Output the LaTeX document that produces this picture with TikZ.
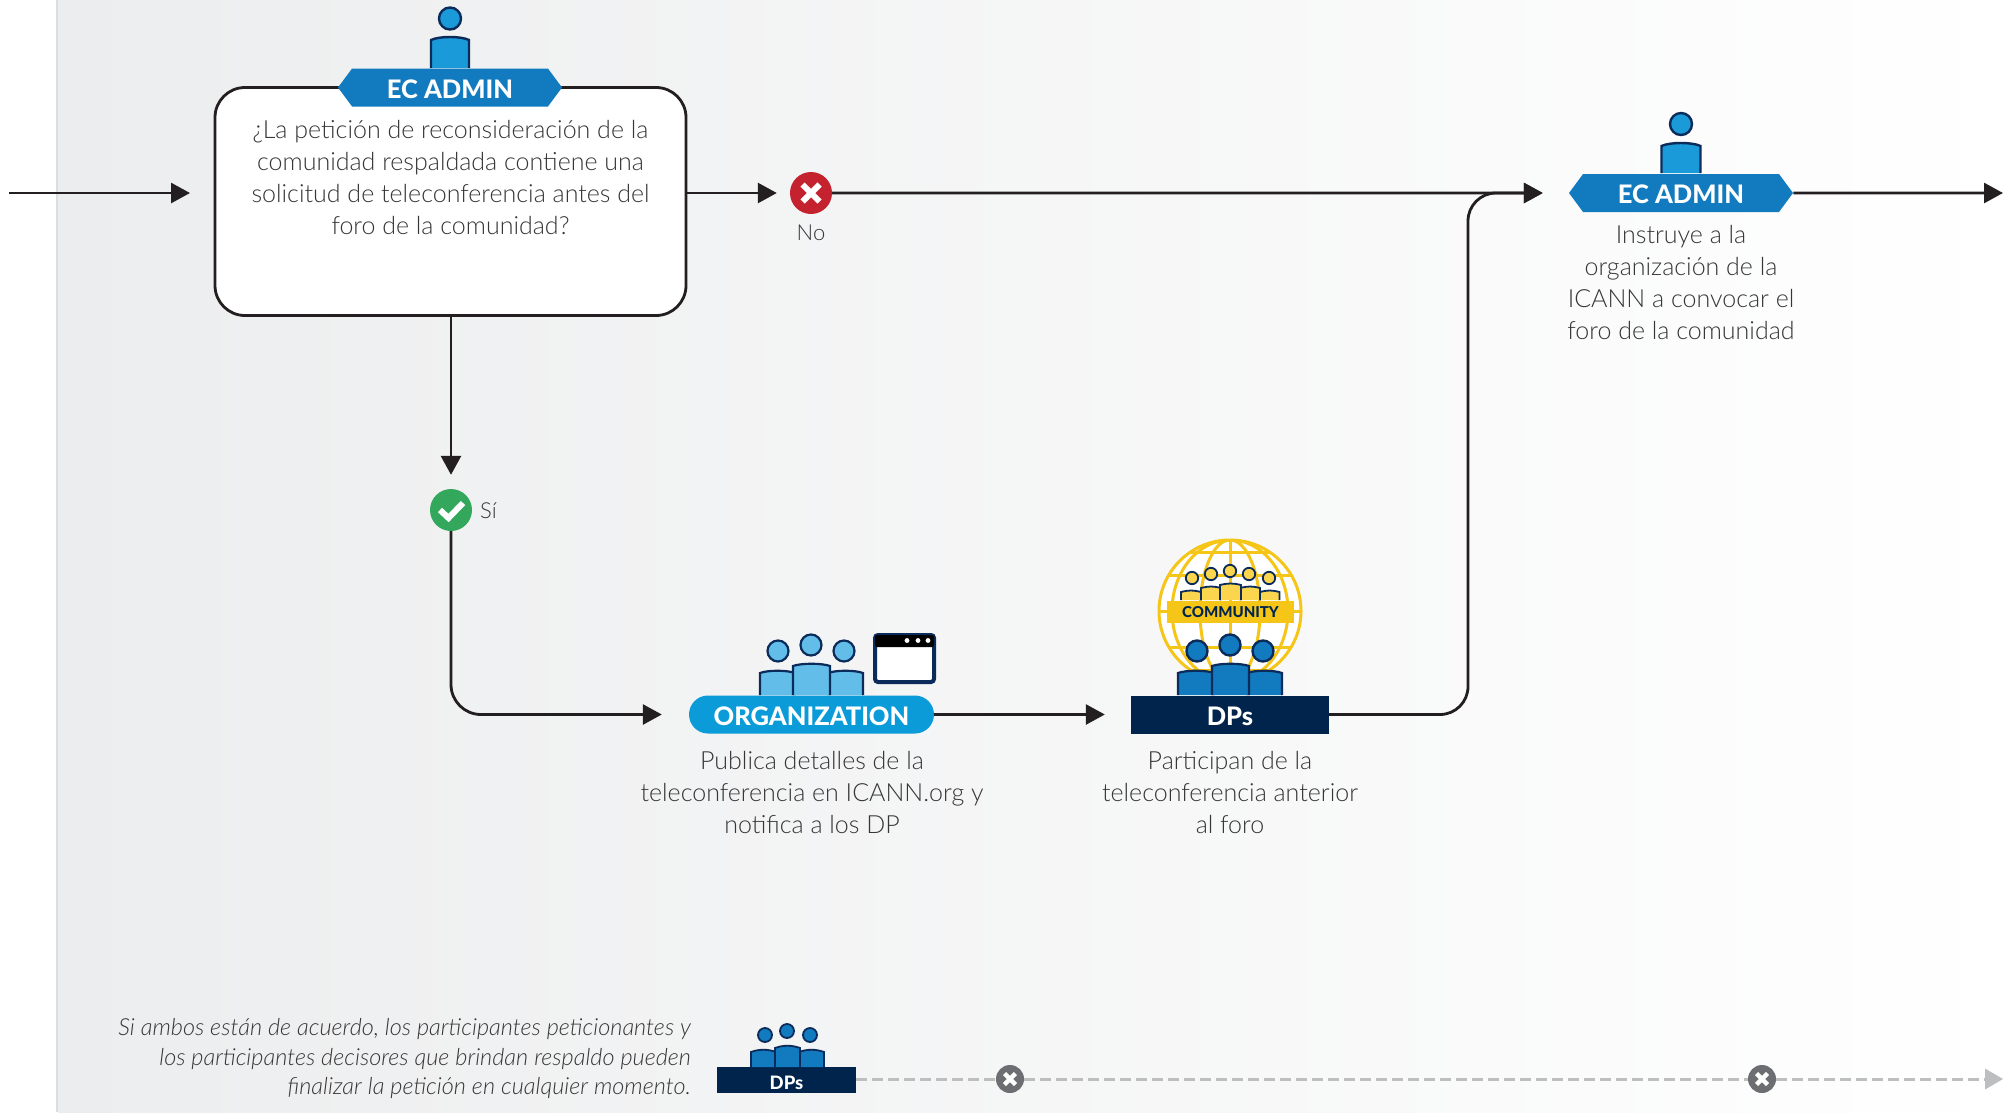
\documentclass[tikz,border=0pt]{standalone}
\usepackage{fontspec}
\setmainfont{Lato}[UprightFont=* Light,ItalicFont=* Light Italic,BoldFont=* Heavy]
\usetikzlibrary{arrows.meta,shapes.symbols,calc,backgrounds}
\definecolor{ink}{HTML}{231F20}
\definecolor{txt}{HTML}{363638}
\definecolor{navy}{HTML}{00244C}
\definecolor{stroke}{HTML}{0B2C5A}
\definecolor{tagblue}{HTML}{127ABF}
\definecolor{cyan1}{HTML}{1A9AD9}
\definecolor{pillblue}{HTML}{0A9BD8}
\definecolor{lightblue}{HTML}{62BEE9}
\definecolor{gold}{HTML}{F5C518}
\definecolor{goldl}{HTML}{FAD54D}
\definecolor{dgray}{HTML}{6D6E71}
\definecolor{lgray}{HTML}{BCBEC0}
\definecolor{noRed}{HTML}{C4222E}
\definecolor{yesGreen}{HTML}{33A85C}
\definecolor{bgL}{HTML}{ECEDEE}
\definecolor{bgE}{HTML}{DDDEDF}
\tikzset{
  x=1pt,y=-1pt,
  flow/.style={draw=ink,line width=2.8pt,-{Triangle[length=19pt,width=20pt]}},
  dashflow/.style={draw=lgray,line width=3pt,dash pattern=on 11pt off 5pt},
  body/.style={font=\fontsize{25}{32}\selectfont,text=txt,align=center,inner sep=0pt},
  tagtext/.style={font=\fontsize{25.5}{30}\selectfont\bfseries,text=white,text height=21.4pt,text depth=0pt},
  hextag/.style={shape=signal,signal to=east and west,signal pointer angle=107,fill=tagblue,minimum width=224pt,minimum height=38pt,inner sep=0pt,tagtext},
  decbox/.style={draw=ink,line width=2.8pt,fill=white,rounded corners=30pt,minimum width=471pt,minimum height=228pt,inner sep=0pt},
  pill/.style={fill=pillblue,rounded corners=19pt,minimum width=245pt,minimum height=38pt,inner sep=0pt,tagtext},
  dpsbar/.style={fill=navy,minimum width=198pt,minimum height=38pt,inner sep=0pt,tagtext},
  dpssmall/.style={dpsbar,minimum width=139pt,minimum height=26pt,font=\fontsize{18.5}{20}\selectfont\bfseries,text height=18.4pt},
  decision/.style={circle,minimum size=42pt,inner sep=0pt},
  stopdot/.style={circle,fill=dgray,minimum size=28pt,inner sep=0pt},
  small/.style={font=\fontsize{22}{26}\selectfont,text=txt,inner sep=0pt},
}
\newcommand{\person}[7]{% x left, x right, top, bottom, fill, stroke width, bulge
  \fill[#5,draw=stroke,line width=#6pt] (#1,#4) -- (#1,#3+2) .. controls (#1+8,#3-#7) and (#2-8,#3-#7) .. (#2,#3+2) -- (#2,#4);
}
\newcommand{\headat}[5]{% x y r fill lw
  \fill[#4,draw=stroke,line width=#5pt] (#1,#2) circle (#3);
}
\newcommand{\xmark}[3]{% center, size, width
  \draw[white,line width=#3pt] ($(#1)+(-#2,-#2)$) -- ($(#1)+(#2,#2)$) ($(#1)+(-#2,#2)$) -- ($(#1)+(#2,-#2)$);
}
\begin{document}
\begin{tikzpicture}
\useasboundingbox (0,0) rectangle (2014,1112);
\coordinate (startL) at (9,193);
\coordinate (inTip) at (190,193);
\coordinate (busx) at (1468,193);
\coordinate (endR) at (2003,193);
\coordinate (dashEnd) at (2003,1079);

% nodes
\node[decbox] (q) at (450.5,201.5) {};
\node[body,anchor=north] (qtext) at (450.5,120.5) {¿La petición de reconsideración de la\\comunidad respaldada contiene una\\solicitud de teleconferencia antes del\\foro de la comunidad?};
\node[small] (nol) at (811,233) {No};
\node[small,anchor=west] (yesl) at (480,511) {Sí};
\node[body,anchor=north] (ec2t) at (1681,225) {Instruye a la\\organización de la\\ICANN a convocar el\\foro de la comunidad};
\node[body,anchor=north] (orgt) at (812,751) {Publica detalles de la\\teleconferencia en ICANN.org y\\notifica a los DP};
\node[body,anchor=north] (dpst) at (1230,751) {Participan de la\\teleconferencia anterior\\al foro};
\node[font=\fontsize{23.5}{29.5}\selectfont\itshape,text=txt,align=right,inner sep=0pt,anchor=east] (note) at (691,1059) {Si ambos están de acuerdo, los participantes peticionantes y\\los participantes decisores que brindan respaldo pueden\\finalizar la petición en cualquier momento.};
\node[hextag] (ec1) at (450,87.5) {EC ADMIN};
\node[decision,fill=noRed] (no) at (811,193) {};
\xmark{no}{8.5}{6}
\node[decision,fill=yesGreen] (yes) at (451,510) {};
\draw[white,line width=6pt] ($(yes)+(-11,0)$) -- ($(yes)+(-2.5,8)$) -- ($(yes)+(12,-7)$);
\node[hextag] (ec2) at (1681,193) {EC ADMIN};
\node[pill] (org) at (811.5,714.5) {ORGANIZATION};
\node[dpsbar] (dps) at (1230,714.5) {DPs};
\node[dpssmall] (dps2) at (786.5,1080) {DPs};
\node[stopdot] (c1) at (1010,1079) {};
\node[stopdot] (c2) at (1762,1079) {};
\xmark{c1}{5.5}{4.4}
\xmark{c2}{5.5}{4.4}

% backdrop and connectors, below the nodes
\begin{scope}[on background layer]
\fill[white] (0,0) rectangle (2014,1112);
\fill[left color=bgL,right color=white] (58,0) rectangle (2014,1112);
\fill[bgE] (56,0) rectangle (58,1112);
\draw[flow] (startL) -- (inTip);
\draw[flow,shorten >=13pt] (q.east |- no) -- (no);
\draw[flow,shorten >=26pt] (no) -- (ec2);
\draw[flow] (ec2) -- (endR);
\draw[flow,shorten >=14pt] (yes |- q.south) -- (yes);
\draw[flow,rounded corners=30pt,shorten >=27pt] (yes) |- (org);
\draw[flow,shorten >=26pt] (org) -- (dps);
\draw[flow,rounded corners=28pt,shorten >=26pt] (dps.east) -| (busx) -- (ec2);
\draw[dashflow] (dps2.east |- c1) -- (c1);
\draw[dashflow] (c1) -- (c2);
\draw[dashflow,shorten >=16pt] (c2) -- (dashEnd);
\fill[lgray] (dashEnd) -- ++(-18,-10.5) -- ++(0,21) -- cycle;
\end{scope}

% EC people
\headat{450}{18.5}{11}{cyan1}{2.4}
\person{431}{469}{38}{68}{cyan1}{2.4}{2}
\headat{1681}{124}{11}{cyan1}{2.4}
\person{1661.5}{1700.5}{144}{173}{cyan1}{2.4}{2}

% Organization people + window
\person{760}{795}{671}{695}{lightblue}{2.2}{1}
\person{828}{863}{671}{695}{lightblue}{2.2}{1}
\person{793}{830}{664}{695}{lightblue}{2.2}{1}
\headat{778}{651}{10.5}{lightblue}{2.2}
\headat{811}{645}{10.5}{lightblue}{2.2}
\headat{844}{651}{10.5}{lightblue}{2.2}
\fill[white,draw=stroke,line width=4pt,rounded corners=3pt] (875,635) rectangle (934,682);
\fill[stroke,rounded corners=2pt] (875,635) rectangle (934,647);
\fill[white] (907,640.5) circle (2.4) (918,640.5) circle (2.4) (928,640.5) circle (2.4);

% Globe
\fill[white] (1230,611) circle (71);
\begin{scope}[draw=gold,line width=3pt]
\clip (1230,611) circle (71);
\draw (1230,538) -- (1230,682);
\draw (1230,611) ellipse (30 and 71) (1230,611) ellipse (58 and 71);
\draw (1150,552) -- (1310,552) (1150,575) -- (1310,575) (1150,611) -- (1310,611) (1150,647) -- (1310,647) (1150,670) -- (1310,670);
\end{scope}
\draw[gold,line width=3pt] (1230,611) circle (71);
\person{1181}{1201}{590}{600}{goldl}{1.8}{0}
\person{1260}{1279.5}{590}{600}{goldl}{1.8}{0}
\person{1201}{1221}{586}{600}{goldl}{1.8}{0}
\person{1240}{1260}{586}{600}{goldl}{1.8}{0}
\person{1220}{1241}{583}{600}{goldl}{1.8}{0}
\headat{1192}{578}{6.2}{goldl}{1.8}
\headat{1211}{574}{6.2}{goldl}{1.8}
\headat{1230}{571}{6.2}{goldl}{1.8}
\headat{1249}{574}{6.2}{goldl}{1.8}
\headat{1269}{578}{6.2}{goldl}{1.8}
\node[fill=gold,minimum width=127pt,minimum height=22pt,inner sep=0pt,font=\fontsize{15}{16}\selectfont\bfseries,text=navy,text height=12.8pt,text depth=0pt] (comm) at (1230.5,611.5) {COMMUNITY};
\person{1178}{1214}{671}{695}{tagblue}{2.2}{1}
\person{1247}{1282}{671}{695}{tagblue}{2.2}{1}
\person{1212}{1249}{664}{695}{tagblue}{2.2}{1}
\headat{1197}{651}{10.5}{tagblue}{2.4}
\headat{1230}{645}{10.5}{tagblue}{2.4}
\headat{1263}{651}{10.5}{tagblue}{2.4}

% small DPs people
\person{751}{776}{1050}{1067}{tagblue}{1.8}{1}
\person{799}{824}{1050}{1067}{tagblue}{1.8}{1}
\person{775}{800}{1046}{1067}{tagblue}{1.8}{1}
\headat{765}{1035}{7}{tagblue}{1.8}
\headat{787}{1031}{7}{tagblue}{1.8}
\headat{810}{1035}{7}{tagblue}{1.8}
\end{tikzpicture}
\end{document}
